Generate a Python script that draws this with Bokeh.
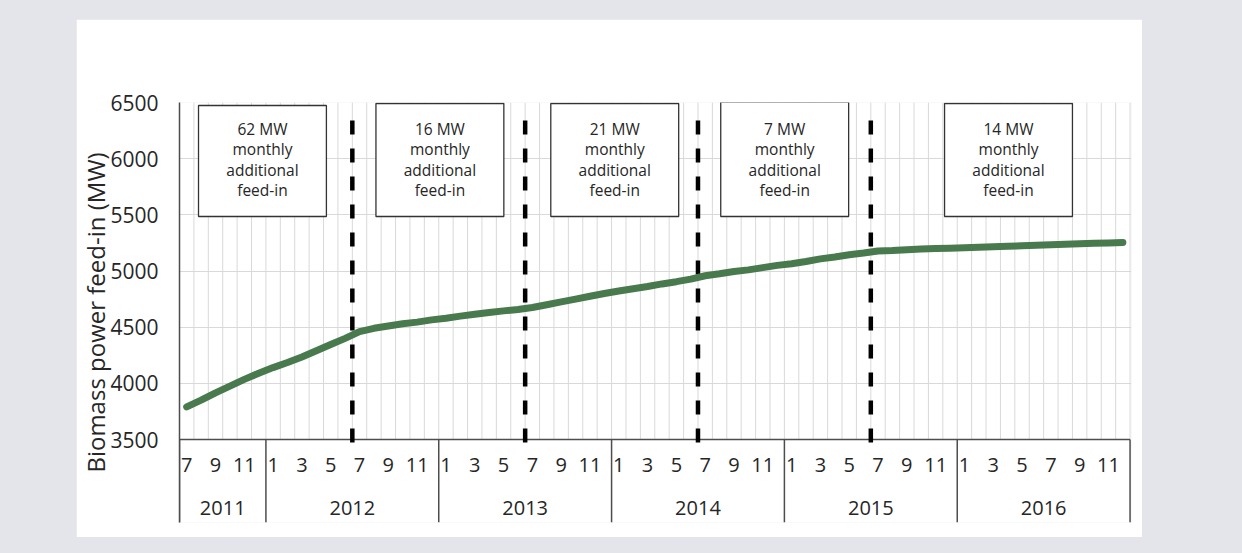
from bokeh.plotting import figure
from bokeh.models import Range1d, FixedTicker, Spacer, ColumnDataSource
from bokeh.layouts import row, column
from bokeh.embed import file_html
from bokeh.resources import INLINE
from bokeh.core.properties import value

# ---------------- data ----------------
years = ["2011", "2012", "2013", "2014", "2015", "2016"]
months_in_year = [6, 12, 12, 12, 12, 12]
month_numbers = [7, 8, 9, 10, 11, 12] + list(range(1, 13)) * 5
feed_in_mw = [
    3790, 3850, 3915, 3975, 4035, 4090,                                   # 2011 Jul-Dec
    4140, 4185, 4235, 4290, 4345, 4400, 4460, 4490, 4510, 4530, 4545, 4565,  # 2012
    4580, 4598, 4615, 4630, 4645, 4658, 4675, 4700, 4725, 4750, 4775, 4800,  # 2013
    4822, 4842, 4862, 4885, 4905, 4928, 4958, 4975, 4995, 5010, 5030, 5050,  # 2014
    5065, 5085, 5108, 5125, 5145, 5160, 5178, 5182, 5190, 5195, 5200, 5203,  # 2015
    5207, 5212, 5216, 5220, 5225, 5230, 5234, 5238, 5242, 5246, 5250, 5254,  # 2016
]
period_labels = ["62 MW", "16 MW", "21 MW", "7 MW", "14 MW"]
period_text = ["monthly", "additional", "feed-in"]
period_starts = [12, 24, 36, 48]          # month index where a new period begins (July)
y_ticks = [3500, 4000, 4500, 5000, 5500, 6000, 6500]

# ---------------- layout constants ----------------
FONT = "Open Sans"
TXT = "#262626"
AX = "#4d4d4d"
GRID = "#d9d9d9"
GREEN = "#487a4e"
BG = "#e4e5ea"

n = len(feed_in_mw)
X_END = n + 0.1
Y_MIN, Y_MAX = 3500, 6500
PX_PER_MW = 337.0 / (Y_MAX - Y_MIN)
BELOW_PX = 83                      # axis-label band below the 3500 line
Y_START = Y_MIN - BELOW_PX / PX_PER_MW


def ypx(px_from_top):
    """convert screen offset (px below the 6500 line) to data units"""
    return Y_MAX - px_from_top / PX_PER_MW


p = figure(width=1066, height=518, output_backend="svg", toolbar_location=None,
           x_range=Range1d(0, X_END), y_range=Range1d(Y_START, Y_MAX),
           x_axis_location=None, min_border_left=102, min_border_right=11,
           min_border_top=83, min_border_bottom=15)
p.outline_line_color = None
p.border_fill_color = "white"
p.background_fill_color = "white"
p.xgrid.visible = False

# y axis
p.yaxis.ticker = FixedTicker(ticks=y_ticks)
p.yaxis.major_tick_out = 0
p.yaxis.major_tick_in = 0
p.yaxis.minor_tick_out = 0
p.yaxis.minor_tick_in = 0
p.yaxis.axis_line_color = AX
p.yaxis.axis_line_width = 1.5
p.yaxis.major_label_standoff = 21
p.yaxis.major_label_text_font = FONT
p.yaxis.major_label_text_font_size = "21px"
p.yaxis.major_label_text_color = TXT
p.yaxis.axis_label = "Biomass power feed-in (MW)"
p.yaxis.axis_label_text_font = FONT
p.yaxis.axis_label_text_font_size = "24px"
p.yaxis.axis_label_text_font_style = "normal"
p.yaxis.axis_label_text_color = TXT
p.yaxis.axis_label_standoff = -5

p.ygrid.ticker = FixedTicker(ticks=y_ticks[1:])
p.ygrid.grid_line_color = GRID
p.ygrid.grid_line_width = 1

# vertical month gridlines
bounds = list(range(1, n + 1))
p.segment(x0=bounds, y0=[Y_MIN] * len(bounds), x1=bounds, y1=[Y_MAX] * len(bounds),
          line_color=GRID, line_width=1)

# bottom axis line and year separators
p.segment(x0=[0], y0=[Y_MIN], x1=[n], y1=[Y_MIN], line_color=AX, line_width=1.5)
year_bounds = [0]
for m in months_in_year:
    year_bounds.append(year_bounds[-1] + m)
p.segment(x0=year_bounds, y0=[Y_START] * len(year_bounds), x1=year_bounds,
          y1=[Y_MIN] * len(year_bounds), line_color=AX, line_width=1.5)

# month tick labels (odd months)
mx = [i + 0.5 for i, m in enumerate(month_numbers) if m % 2 == 1]
mt = [str(m) for m in month_numbers if m % 2 == 1]
p.text(x=mx, y=[ypx(362)] * len(mx), text=mt, text_align="center",
       text_baseline="middle", text_font=value(FONT), text_font_size="20px",
       text_color=TXT)

# year labels
ycx = [(year_bounds[k] + year_bounds[k + 1]) / 2 for k in range(len(years))]
p.text(x=ycx, y=[ypx(405)] * len(years), text=years, text_align="center",
       text_baseline="middle", text_font=value(FONT), text_font_size="20px",
       text_color=TXT)

# dashed period separators
p.segment(x0=period_starts, y0=[ypx(18)] * 4, x1=period_starts, y1=[ypx(342)] * 4,
          line_color="black", line_width=4.5, line_dash="14 14")

# annotation boxes
box_left = [1.32, 13.64, 25.78, 37.58, 53.12]
box_right = [b + 8.88 for b in box_left]
box_top = [ypx(3), ypx(1), ypx(1), ypx(-0.5), ypx(1)]
box_bottom = [ypx(114)] * 5
p.quad(left=box_left, right=box_right, top=box_top, bottom=box_bottom,
       fill_color="white", line_color="#333333", line_width=1.3)

tx, ty, tt = [], [], []
for k, lab in enumerate(period_labels):
    cx = (box_left[k] + box_right[k]) / 2
    lines = [lab] + period_text
    for j, s in enumerate(lines):
        tx.append(cx)
        ty.append(ypx(26.5 + 20.3 * j))
        tt.append(s)
p.text(x=tx, y=ty, text=tt, text_align="center", text_baseline="middle",
       text_font=value(FONT), text_font_size="15.5px", text_color=TXT)

# the series
src = ColumnDataSource(dict(x=[i + 0.5 for i in range(n)], y=feed_in_mw))
p.line("x", "y", source=src, line_color=GREEN, line_width=7, line_cap="round",
       line_join="round")

layout = column(Spacer(height=19), row(Spacer(width=76), p))
html = file_html(layout, INLINE)
html = html.replace("</head>", "<style>html,body{background:%s;}</style></head>" % BG, 1)
open("out.html", "w").write(html)
